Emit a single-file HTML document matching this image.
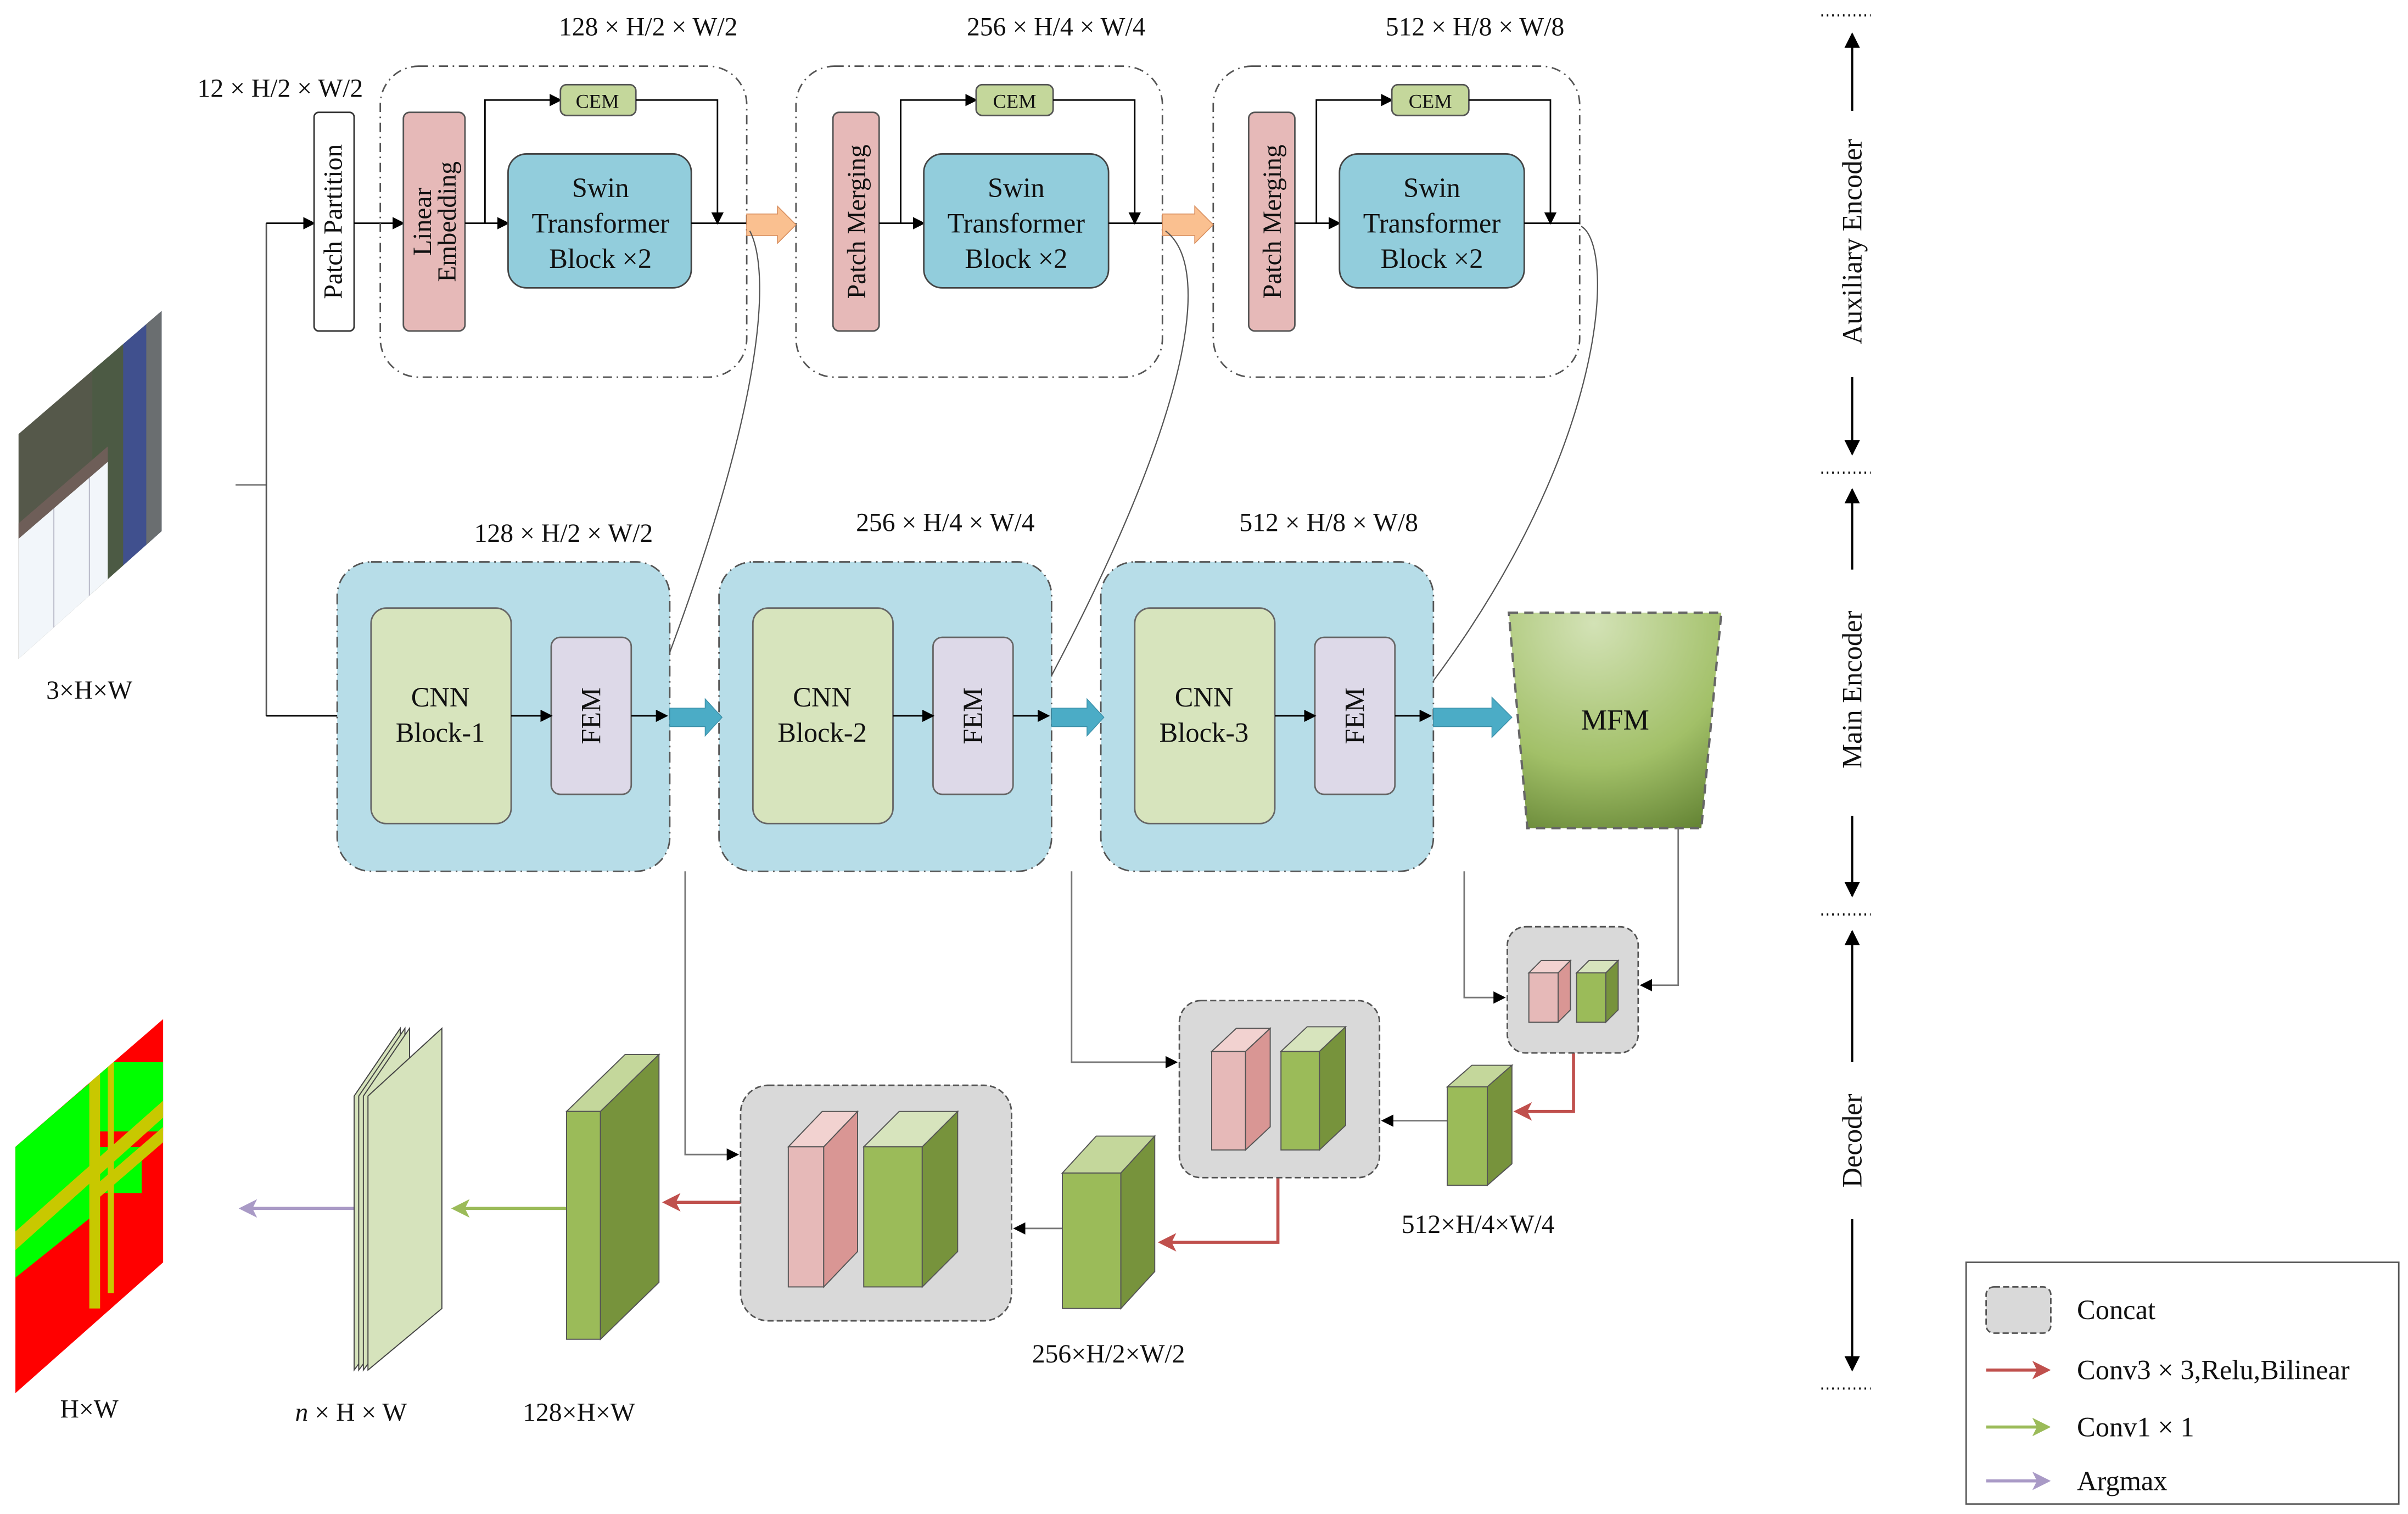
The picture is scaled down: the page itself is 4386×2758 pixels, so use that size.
<!DOCTYPE html>
<html><head><meta charset="utf-8"><style>
html,body{margin:0;padding:0;background:#fff;}
svg{display:block;}
text{font-family:"Liberation Serif","Times New Roman",serif;fill:#111;}
</style></head><body>
<svg width="4386" height="2758" viewBox="0 0 1564 983.5" preserveAspectRatio="none" xmlns="http://www.w3.org/2000/svg" font-family="Liberation Serif, serif">
<defs>
<marker id="ab" markerWidth="8" markerHeight="8" refX="7" refY="4" orient="auto" markerUnits="userSpaceOnUse"><path d="M0,0 L8,4 L0,8 z" fill="#000"/></marker>
<marker id="ar" markerWidth="12" markerHeight="12" refX="10" refY="6" orient="auto" markerUnits="userSpaceOnUse"><path d="M0,0 L12,6 L0,12 L3,6 z" fill="#c0504d"/></marker>
<marker id="ag" markerWidth="12" markerHeight="12" refX="10" refY="6" orient="auto" markerUnits="userSpaceOnUse"><path d="M0,0 L12,6 L0,12 L3,6 z" fill="#9bbb59"/></marker>
<marker id="ap" markerWidth="12" markerHeight="12" refX="10" refY="6" orient="auto" markerUnits="userSpaceOnUse"><path d="M0,0 L12,6 L0,12 L3,6 z" fill="#a99ac6"/></marker>
<marker id="ak" markerWidth="10" markerHeight="10" refX="9" refY="5" orient="auto" markerUnits="userSpaceOnUse"><path d="M0,0 L10,5 L0,10 z" fill="#000"/></marker>
<radialGradient id="mfm" cx="0.4" cy="0.05" r="1.1">
<stop offset="0" stop-color="#d3e2b6"/><stop offset="0.6" stop-color="#a2c068"/><stop offset="1" stop-color="#5f7f30"/></radialGradient>
<clipPath id="satc"><polygon points="12,282 105,202 105,345 12,428"/></clipPath>
<clipPath id="segc"><polygon points="10,745 106,662 106,820 10,905"/></clipPath>
</defs>

<!-- Satellite image -->
<g clip-path="url(#satc)">
<rect x="0" y="190" width="120" height="250" fill="#55584a"/>
<rect x="60" y="190" width="20" height="250" fill="#4c5a44"/>
<rect x="80" y="190" width="25" height="250" fill="#40508e"/>
<rect x="95" y="190" width="10" height="250" fill="#6a6e70"/>
<polygon points="12,350 70,300 70,440 12,440" fill="#f2f6fa"/>
<line x1="35" y1="330" x2="35" y2="440" stroke="#aab" stroke-width="0.6"/>
<line x1="58" y1="310" x2="58" y2="440" stroke="#aab" stroke-width="0.6"/>
<polygon points="12,340 70,290 70,300 12,350" fill="#6e5e58"/>
</g>
<text x="58" y="454" font-size="17" text-anchor="middle">3×H×W</text>

<!-- Segmentation -->
<g clip-path="url(#segc)">
<rect x="0" y="650" width="120" height="260" fill="#ff0000"/>
<polygon points="10,745 60,702 60,790 10,830 0,830 0,740" fill="#00ff00"/>
<rect x="62" y="690" width="44" height="45" fill="#00ff00"/>
<rect x="62" y="745" width="30" height="30" fill="#00ff00"/>
<polygon points="10,800 106,715 106,726 10,812" fill="#c8c800"/>
<polygon points="62,770 106,732 106,742 62,780" fill="#c8c800"/>
<rect x="58" y="680" width="7" height="170" fill="#c8c800"/>
<rect x="70" y="680" width="4" height="160" fill="#c8c800"/>
</g>
<text x="58" y="921" font-size="17" text-anchor="middle">H×W</text>

<!-- Top labels -->
<text x="182" y="63" font-size="17" text-anchor="middle">12 × H/2 × W/2</text>
<text x="421" y="23" font-size="17" text-anchor="middle">128 × H/2 × W/2</text>
<text x="686" y="23" font-size="17" text-anchor="middle">256 × H/4 × W/4</text>
<text x="958" y="23" font-size="17" text-anchor="middle">512 × H/8 × W/8</text>

<!-- input lines -->
<line x1="153" y1="315" x2="173" y2="315" stroke="#888" stroke-width="1"/>
<line x1="173" y1="145" x2="173" y2="465" stroke="#555" stroke-width="1"/>
<line x1="173" y1="145" x2="204" y2="145" stroke="#000" stroke-width="1" marker-end="url(#ab)"/>
<line x1="173" y1="465" x2="241" y2="465" stroke="#000" stroke-width="1" marker-end="url(#ab)"/>

<!-- Patch partition -->
<rect x="204" y="73" width="26" height="142" rx="3" fill="#fff" stroke="#333"/>
<text transform="translate(222,144) rotate(-90)" font-size="17" text-anchor="middle">Patch Partition</text>
<line x1="230" y1="145" x2="262" y2="145" stroke="#000" marker-end="url(#ab)"/>

<!-- Aux groups -->
<g fill="none" stroke="#555" stroke-width="1" stroke-dasharray="6,3,1,3">
<rect x="247" y="43" width="238" height="202" rx="25"/>
<rect x="517" y="43" width="238" height="202" rx="25"/>
<rect x="788" y="43" width="238" height="202" rx="25"/>
</g>
<rect x="262" y="73" width="40" height="142" rx="4" fill="#e6b9b8" stroke="#555"/>
<text transform="translate(280,144) rotate(-90)" font-size="17" text-anchor="middle">Linear</text>
<text transform="translate(296,144) rotate(-90)" font-size="17" text-anchor="middle">Embedding</text>
<line x1="302" y1="145" x2="330" y2="145" stroke="#000" marker-end="url(#ab)"/>
<polyline points="315,145 315,65 364,65" fill="none" stroke="#000" marker-end="url(#ab)"/>

<rect x="541" y="73" width="30" height="142" rx="4" fill="#e6b9b8" stroke="#555"/>
<text transform="translate(562,144) rotate(-90)" font-size="17" text-anchor="middle">Patch Merging</text>
<line x1="571" y1="145" x2="600" y2="145" stroke="#000" marker-end="url(#ab)"/>
<polyline points="585,145 585,65 634,65" fill="none" stroke="#000" marker-end="url(#ab)"/>
<rect x="811" y="73" width="30" height="142" rx="4" fill="#e6b9b8" stroke="#555"/>
<text transform="translate(832,144) rotate(-90)" font-size="17" text-anchor="middle">Patch Merging</text>
<line x1="841" y1="145" x2="870" y2="145" stroke="#000" marker-end="url(#ab)"/>
<polyline points="855,145 855,65 904,65" fill="none" stroke="#000" marker-end="url(#ab)"/>

<g>
<rect x="364" y="55" width="49" height="20" rx="4" fill="#c4d79b" stroke="#555"/>
<text x="388" y="70" font-size="13" text-anchor="middle">CEM</text>
<rect x="634" y="55" width="50" height="20" rx="4" fill="#c4d79b" stroke="#555"/>
<text x="659" y="70" font-size="13" text-anchor="middle">CEM</text>
<rect x="904" y="55" width="50" height="20" rx="4" fill="#c4d79b" stroke="#555"/>
<text x="929" y="70" font-size="13" text-anchor="middle">CEM</text>
</g>
<polyline points="413,65 466,65 466,145" fill="none" stroke="#000" marker-end="url(#ab)"/>
<polyline points="684,65 737,65 737,145" fill="none" stroke="#000" marker-end="url(#ab)"/>
<polyline points="954,65 1007,65 1007,145" fill="none" stroke="#000" marker-end="url(#ab)"/>

<g fill="#92cddc" stroke="#444">
<rect x="330" y="100" width="119" height="87" rx="12"/>
<rect x="600" y="100" width="120" height="87" rx="12"/>
<rect x="870" y="100" width="120" height="87" rx="12"/>
</g>
<g font-size="18" text-anchor="middle">
<text x="390" y="128">Swin</text><text x="390" y="151">Transformer</text><text x="390" y="174">Block ×2</text>
<text x="660" y="128">Swin</text><text x="660" y="151">Transformer</text><text x="660" y="174">Block ×2</text>
<text x="930" y="128">Swin</text><text x="930" y="151">Transformer</text><text x="930" y="174">Block ×2</text>
</g>
<line x1="449" y1="145" x2="485" y2="145" stroke="#000"/>
<line x1="720" y1="145" x2="755" y2="145" stroke="#000"/>
<line x1="990" y1="145" x2="1026" y2="145" stroke="#000"/>
<path d="M485,139 L505,139 L505,134 L517,146 L505,158 L505,153 L485,153 z" fill="#fac090" stroke="#d99060" stroke-width="0.6"/>
<path d="M755,139 L776,139 L776,134 L788,146 L776,158 L776,153 L755,153 z" fill="#fac090" stroke="#d99060" stroke-width="0.6"/>

<!-- curves -->
<path d="M487,150 C500,175 500,260 420,463" fill="none" stroke="#555" stroke-width="0.8" marker-end="url(#ab)"/>
<path d="M757,150 C790,175 770,280 670,463" fill="none" stroke="#555" stroke-width="0.8" marker-end="url(#ab)"/>
<path d="M1027,147 C1050,160 1045,300 915,463" fill="none" stroke="#555" stroke-width="0.8" marker-end="url(#ab)"/>

<!-- Middle labels -->
<text x="366" y="352" font-size="17" text-anchor="middle">128 × H/2 × W/2</text>
<text x="614" y="345" font-size="17" text-anchor="middle">256 × H/4 × W/4</text>
<text x="863" y="345" font-size="17" text-anchor="middle">512 × H/8 × W/8</text>

<g fill="#b7dde8" stroke="#555" stroke-dasharray="7,3,1,3">
<rect x="219" y="365" width="216" height="201" rx="22"/>
<rect x="467" y="365" width="216" height="201" rx="22"/>
<rect x="715" y="365" width="216" height="201" rx="22"/>
</g>
<g fill="#d7e4bd" stroke="#666">
<rect x="241" y="395" width="91" height="140" rx="10"/>
<rect x="489" y="395" width="91" height="140" rx="10"/>
<rect x="737" y="395" width="91" height="140" rx="10"/>
</g>
<g fill="#ddd9e8" stroke="#666">
<rect x="358" y="414" width="52" height="102" rx="6"/>
<rect x="606" y="414" width="52" height="102" rx="6"/>
<rect x="854" y="414" width="52" height="102" rx="6"/>
</g>
<g font-size="18" text-anchor="middle">
<text x="286" y="459">CNN</text><text x="286" y="482">Block-1</text>
<text x="534" y="459">CNN</text><text x="534" y="482">Block-2</text>
<text x="782" y="459">CNN</text><text x="782" y="482">Block-3</text>
<text transform="translate(390,465) rotate(-90)" text-anchor="middle">FEM</text>
<text transform="translate(638,465) rotate(-90)" text-anchor="middle">FEM</text>
<text transform="translate(886,465) rotate(-90)" text-anchor="middle">FEM</text>
</g>
<g stroke="#000">
<line x1="332" y1="465" x2="358" y2="465" marker-end="url(#ab)"/>
<line x1="580" y1="465" x2="606" y2="465" marker-end="url(#ab)"/>
<line x1="828" y1="465" x2="854" y2="465" marker-end="url(#ab)"/>
<line x1="410" y1="465" x2="433" y2="465" marker-end="url(#ab)"/>
<line x1="658" y1="465" x2="681" y2="465" marker-end="url(#ab)"/>
<line x1="906" y1="465" x2="929" y2="465" marker-end="url(#ab)"/>
</g>
<g fill="#4bacc6" stroke="#3a8fa8" stroke-width="0.5">
<path d="M435,460 L458,460 L458,454 L469,466 L458,478 L458,472 L435,472 z"/>
<path d="M683,460 L706,460 L706,454 L717,466 L706,478 L706,472 L683,472 z"/>
<path d="M931,460 L969,460 L969,453 L982,466 L969,479 L969,472 L931,472 z"/>
</g>
<polygon points="980,398 1118,398 1105,538 992,538" fill="url(#mfm)" stroke="#666" stroke-width="1.5" stroke-dasharray="6,4"/>
<text x="1049" y="474" font-size="19" text-anchor="middle">MFM</text>

<!-- right side section markers -->
<g stroke="#000" stroke-width="1.4">
<line x1="1183" y1="10" x2="1215" y2="10" stroke-dasharray="1,2.5"/>
<line x1="1183" y1="307" x2="1215" y2="307" stroke-dasharray="1,2.5"/>
<line x1="1183" y1="594" x2="1215" y2="594" stroke-dasharray="1,2.5"/>
<line x1="1183" y1="902" x2="1215" y2="902" stroke-dasharray="1,2.5"/>
<line x1="1203" y1="72" x2="1203" y2="22" marker-end="url(#ak)"/>
<line x1="1203" y1="245" x2="1203" y2="295" marker-end="url(#ak)"/>
<line x1="1203" y1="370" x2="1203" y2="318" marker-end="url(#ak)"/>
<line x1="1203" y1="530" x2="1203" y2="582" marker-end="url(#ak)"/>
<line x1="1203" y1="690" x2="1203" y2="605" marker-end="url(#ak)"/>
<line x1="1203" y1="792" x2="1203" y2="890" marker-end="url(#ak)"/>
</g>
<g font-size="18" text-anchor="middle">
<text transform="translate(1209,157) rotate(-90)">Auxiliary Encoder</text>
<text transform="translate(1209,448) rotate(-90)">Main Encoder</text>
<text transform="translate(1209,741) rotate(-90)">Decoder</text>
</g>

<!-- Decoder connectors -->
<g fill="none" stroke="#777" stroke-width="1">
<polyline points="1090,538 1090,640 1066,640" marker-end="url(#ab)"/>
<polyline points="951,566 951,648 977,648" marker-end="url(#ab)"/>
<polyline points="940,728 898,728" marker-end="url(#ab)"/>
<polyline points="696,566 696,690 764,690" marker-end="url(#ab)"/>
<polyline points="690,798 659,798" marker-end="url(#ab)"/>
<polyline points="445,566 445,750 479,750" marker-end="url(#ab)"/>
</g>
<g fill="none" stroke="#c0504d" stroke-width="2">
<polyline points="1022,684 1022,722 985,722" marker-end="url(#ar)"/>
<polyline points="830,765 830,807 754,807" marker-end="url(#ar)"/>
<polyline points="481,781 432,781" marker-end="url(#ar)"/>
</g>
<line x1="368" y1="785" x2="295" y2="785" stroke="#9bbb59" stroke-width="2" marker-end="url(#ag)"/>
<line x1="230" y1="785" x2="157" y2="785" stroke="#a99ac6" stroke-width="2" marker-end="url(#ap)"/>

<g fill="#d9d9d9" stroke="#555" stroke-dasharray="4,2">
<rect x="979" y="602" width="85" height="82" rx="12"/>
<rect x="766" y="650" width="130" height="115" rx="14"/>
<rect x="481" y="705" width="176" height="153" rx="18"/>
</g>

<g stroke="#555" stroke-width="0.7">
<polygon points="993,632 1012,632 1020,624 1001,624" fill="#f2d2d0"/><rect x="993" y="632" width="19" height="32" fill="#e6b9b8"/><polygon points="1012,632 1020,624 1020,656 1012,664" fill="#d99694"/>
<polygon points="1024,632 1043,632 1051,624 1032,624" fill="#d7e4bd"/><rect x="1024" y="632" width="19" height="32" fill="#9bbb59"/><polygon points="1043,632 1051,624 1051,656 1043,664" fill="#77933c"/>

<polygon points="787,683 809,683 825,668 803,668" fill="#f2d2d0"/><rect x="787" y="683" width="22" height="64" fill="#e6b9b8"/><polygon points="809,683 825,668 825,732 809,747" fill="#d99694"/>
<polygon points="832,683 857,683 874,667 849,667" fill="#d7e4bd"/><rect x="832" y="683" width="25" height="64" fill="#9bbb59"/><polygon points="857,683 874,667 874,731 857,747" fill="#77933c"/>

<polygon points="512,745 535,745 557,722 534,722" fill="#f2d2d0"/><rect x="512" y="745" width="23" height="91" fill="#e6b9b8"/><polygon points="535,745 557,722 557,813 535,836" fill="#d99694"/>
<polygon points="561,745 599,745 622,722 584,722" fill="#d7e4bd"/><rect x="561" y="745" width="38" height="91" fill="#9bbb59"/><polygon points="599,745 622,722 622,813 599,836" fill="#77933c"/>

<polygon points="940,706 966,706 982,692 956,692" fill="#c4d79b"/><rect x="940" y="706" width="26" height="64" fill="#9bbb59"/><polygon points="966,706 982,692 982,756 966,770" fill="#77933c"/>
<polygon points="690,762 728,762 750,738 712,738" fill="#c4d79b"/><rect x="690" y="762" width="38" height="88" fill="#9bbb59"/><polygon points="728,762 750,738 750,826 728,850" fill="#77933c"/>
<polygon points="368,722 390,722 428,685 406,685" fill="#c4d79b"/><rect x="368" y="722" width="22" height="148" fill="#9bbb59"/><polygon points="390,722 428,685 428,833 390,870" fill="#77933c"/>
</g>
<text x="960" y="801" font-size="17" text-anchor="middle">512×H/4×W/4</text>
<text x="720" y="885" font-size="17" text-anchor="middle">256×H/2×W/2</text>
<text x="376" y="923" font-size="17" text-anchor="middle">128×H×W</text>

<g fill="#d6e3bc" stroke="#444" stroke-width="0.7">
<polygon points="230,712 260,668 260,850 230,890"/>
<polygon points="233,712 263,668 263,850 233,890"/>
<polygon points="236,712 266,668 266,850 236,890"/>
<polygon points="239,712 287,668 287,850 239,890"/>
</g>
<text x="228" y="923" font-size="17" text-anchor="middle"><tspan font-style="italic">n</tspan> × H × W</text>

<rect x="1277" y="820" width="281" height="157" fill="#fff" stroke="#555"/>
<rect x="1290" y="836" width="42" height="30" rx="5" fill="#d9d9d9" stroke="#555" stroke-dasharray="4,2"/>
<text x="1349" y="857" font-size="18">Concat</text>
<line x1="1290" y1="890" x2="1330" y2="890" stroke="#c0504d" stroke-width="2" marker-end="url(#ar)"/>
<text x="1349" y="896" font-size="18">Conv3 × 3,Relu,Bilinear</text>
<line x1="1290" y1="927" x2="1330" y2="927" stroke="#9bbb59" stroke-width="2" marker-end="url(#ag)"/>
<text x="1349" y="933" font-size="18">Conv1 × 1</text>
<line x1="1290" y1="962" x2="1330" y2="962" stroke="#a99ac6" stroke-width="2" marker-end="url(#ap)"/>
<text x="1349" y="968" font-size="18">Argmax</text>
</svg>
</body></html>
